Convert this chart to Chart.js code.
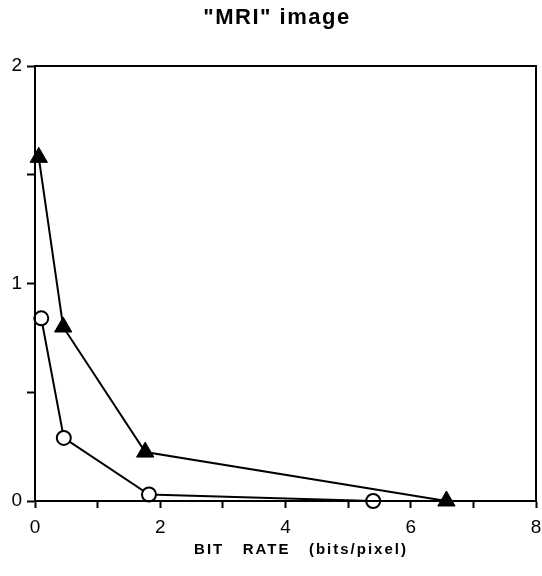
<!DOCTYPE html>
<html>
<head>
<meta charset="utf-8">
<script src="https://cdn.jsdelivr.net/npm/chart.js@4"></script>
<style>
  html, body { margin: 0; padding: 0; background: #fff; }
  #wrap { width: 542px; height: 576px; }
</style>
</head>
<body>
<div id="wrap"><canvas id="mriChart"></canvas></div>
<script>
// Données
const triangleX = [0.06, 0.45, 1.76, 6.57];
const triangleY = [1.58, 0.80, 0.225, 0.0];
const circleX = [0.10, 0.46, 1.82, 5.40];
const circleY = [0.84, 0.29, 0.03, 0.0];
const xTickLabels = [0, 2, 4, 6, 8];
const yTickLabels = [0, 1, 2];
const titleText = '"MRI" image';
const xTitleText = "BIT   RATE   (bits/pixel)";

const toPoints = (xs, ys) => xs.map((x, i) => ({ x: x, y: ys[i] }));
const family = "'Liberation Sans', Arial, sans-serif";

// Cadre autour de la zone de tracé + textes espacés
const decor = {
  id: "decor",
  afterDraw(chart) {
    const { ctx, chartArea: a } = chart;
    ctx.save();
    ctx.strokeStyle = "#000";
    ctx.lineWidth = 2;
    ctx.strokeRect(a.left, a.top, a.right - a.left, a.bottom - a.top);

    ctx.fillStyle = "#000";
    ctx.textAlign = "center";
    ctx.textBaseline = "middle";
    ctx.letterSpacing = "1.5px";
    ctx.font = "bold 22px " + family;
    ctx.fillText(titleText, 277, 18);

    ctx.letterSpacing = "2px";
    ctx.font = "bold 15px " + family;
    ctx.fillText(xTitleText, 301, 550);
    ctx.restore();
  },
};

const data = {
  datasets: [
    {
      label: "triangles",
      data: toPoints(triangleX, triangleY),
      borderColor: "#000",
      backgroundColor: "#000",
      borderWidth: 2,
      pointStyle: "triangle",
      pointRadius: 10,
      pointBorderWidth: 1,
      showLine: true,
      fill: false,
      tension: 0,
    },
    {
      label: "cercles",
      data: toPoints(circleX, circleY),
      borderColor: "#000",
      backgroundColor: "#fff",
      borderWidth: 2,
      pointStyle: "circle",
      pointRadius: 7,
      pointBorderWidth: 2,
      showLine: true,
      fill: false,
      tension: 0,
    },
  ],
};

const config = {
  type: "scatter",
  data: data,
  options: {
    responsive: true,
    maintainAspectRatio: false,
    animation: false,
    clip: false,
    layout: { autoPadding: false, padding: { left: 0, right: 6, top: 66, bottom: 0 } },
    plugins: {
      legend: { display: false },
      tooltip: { enabled: false },
      title: { display: false },
    },
    scales: {
      x: {
        type: "linear",
        min: 0,
        max: 8,
        ticks: {
          stepSize: 1,
          color: "#000",
          font: { family: family, size: 19, lineHeight: 2.1 },
          padding: 0,
          maxRotation: 0,
          callback: (v) => (xTickLabels.includes(v) ? String(v) : ""),
        },
        grid: { drawOnChartArea: false, color: "#000", tickLength: 7, tickWidth: 2 },
        border: { color: "#000", width: 2 },
        afterFit: (s) => { s.height = 75; },
      },
      y: {
        type: "linear",
        min: 0,
        max: 2,
        ticks: {
          stepSize: 0.5,
          color: "#000",
          font: { family: family, size: 19 },
          padding: 5,
          callback: (v) => (yTickLabels.includes(v) ? String(v) : ""),
        },
        grid: { drawOnChartArea: false, color: "#000", tickLength: 8, tickWidth: 2 },
        border: { color: "#000", width: 2 },
        afterFit: (s) => { s.width = 35; },
      },
    },
  },
  plugins: [decor],
};

const ctx = document.getElementById("mriChart").getContext("2d");
new Chart(ctx, config);
</script>
</body>
</html>
